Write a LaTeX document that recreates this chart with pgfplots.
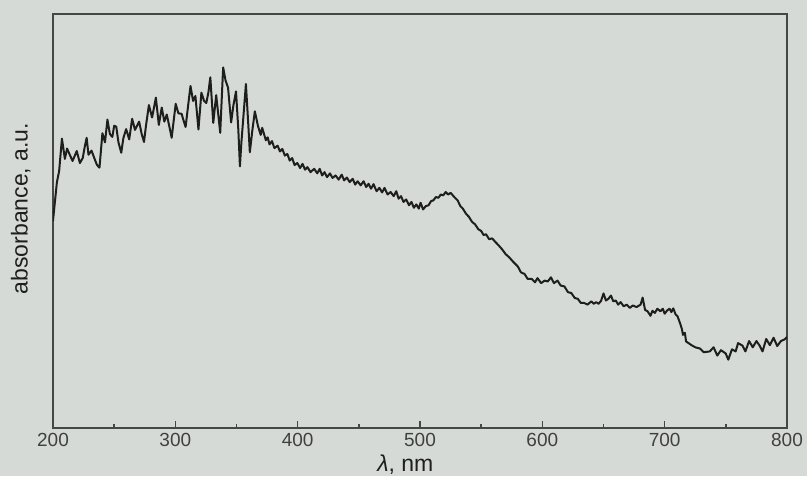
\documentclass[border=0pt]{standalone}
\usepackage{pgfplots}
\pgfplotsset{compat=1.18}
\usepackage{fontspec}
\setmainfont{Liberation Sans}
\definecolor{paper}{RGB}{214,218,214}
\definecolor{ink}{RGB}{30,30,30}
\definecolor{frame}{RGB}{70,70,70}

\pgfplotstableread{
x y
200 50
201 53
203.2 59.4
205 62
207.3 69.9
209.7 65.0
211.5 67.5
213.7 66.0
216 64.5
219.4 66.9
222 64
224.3 65.2
226 68
227.5 70.1
229 66
231.5 67.0
234 65
236 63.5
238 62.9
240.4 71.2
242.5 69
244.5 74.5
246.5 71
248.5 70.3
250 73
251.7 72.8
253.5 69
255.8 66.5
257.5 70
259.8 72.2
262.3 69.7
264.7 74.7
267 72
270.4 74.0
272.5 71
274.4 69.1
276 73
278.4 78.0
281 75
284.1 79.8
286.5 73.2
288.9 77.4
291 74
293 75.7
295 73
297 70.1
300.3 78.3
302.5 76
305.1 75.9
307 74
308.4 72.7
310.5 78
312.4 82.6
314.5 79
316.4 80.2
318.9 72.1
321.3 81.0
323.5 79
325.3 78.5
327 81
328.6 84.7
331 73.7
333.4 80.4
335 76
336.7 71.3
338 80
339.1 87.1
341 84
343.1 82.2
345.6 73.8
347.5 78
349.6 81.3
351.5 72
352.8 63.2
354 69
355.3 73.9
357.7 83.1
359.5 74
360.9 66.6
363 72
365 76.5
367.5 73
369.8 70.8
371 72.5
372.5 71
374 69.5
375.5 70.2
377 68.5
379 69.3
381 67.6
383.6 68.2
385.5 66.8
387.5 67.4
389.5 65.8
391.6 66.2
393.5 64.6
395.5 65.2
397.5 63.5
399.7 64.0
402 62.8
404 63.8
406 62.4
408 63.0
410.5 61.8
413.5 62.6
416 61.5
418 62.6
420 61.0
422 61.8
424 60.6
426.4 61.5
428.5 60.4
431 61.0
433.5 60.0
436 61.2
438 59.8
440.2 60.5
442.5 59.4
445 60.2
447 58.8
449 59.6
451.5 58.6
453.9 59.6
456 58.2
458 59.0
460 57.8
462 58.9
464.5 57.2
466.8 58.0
469 56.9
471 58.0
473.5 56.4
476 57.0
478.5 56.0
480.6 57.2
482.5 55.4
484.5 56.0
486.5 54.6
488.7 55.2
491 53.8
493 54.6
495 53.2
497 54.0
499 53.0
500.5 54.4
502.5 52.8
504.8 53.6
507 53.8
509 54.8
511 55.0
513 55.8
515 55.6
517 56.4
519 56.2
521 57.0
523 56.4
525 56.8
528 55.8
530.7 55.0
533 53.6
535 53.0
537.5 51.8
540 51.0
542.5 49.8
545 49.2
547.7 48.0
550 47.6
552 46.6
554 46.8
556.5 45.6
559 45.8
561.4 45.0
564 44.2
567 43.2
570 42.0
573 41.2
576 40.2
578 39.6
580 39.0
582.5 37.6
585.5 37.2
588 36.0
591.4 36.0
594 35.2
596 36.2
599 35.0
601.9 35.6
604.5 35.4
607 36.4
609.5 35.0
612.4 35.6
615 34.4
618 34.2
621 32.8
623.7 32.6
626.5 31.4
629 31.2
631.5 30.2
634.2 30.2
637 29.8
640 30.6
642 30.0
644 30.4
646 30.0
648 30.7
650 32.5
652 30.8
654 31.2
656.1 32.0
658 30.6
660 30.8
662 29.8
664 30.4
666.5 29.4
669 29.8
671.5 29.0
674 29.6
677 29.2
680.3 29.8
682 31.5
684 28.5
686 28.2
688.4 27.1
690 28.3
692 27.8
694 28.8
696.5 28.2
698.5 28.8
700 27.6
702 28.4
704 28.8
705.5 28.0
707 28.9
709 27.4
710.5 27.0
712.7 25.2
714 24.0
715 22.5
716.5 23.0
717.5 20.9
720 20.4
722 20
725 19.5
728.8 19.2
732 18.3
736.9 18.5
740 19.5
743 17.5
746 18.8
749.9 18.0
752 16.5
755 19
758 18.5
760 20.5
763.6 19.9
766 18.5
769 21
772 19.5
775 21
777.4 20.0
780 18.5
783 21.5
786 20
789 21.8
792 19.8
795 21
798 21.4
800 22
}\spectrum

\begin{document}
\begin{tikzpicture}
\useasboundingbox (-26.5pt,-24pt) rectangle (377pt,214pt);
\fill[paper] (-26.5pt,-24pt) rectangle (377pt,214pt);
\begin{axis}[
  scale only axis,
  width=367pt, height=207pt,
  at={(0,0)}, anchor=south west,
  xmin=200, xmax=800, ymin=0, ymax=100,
  xtick={200,300,...,800},
  minor x tick num=1,
  ytick=\empty,
  xtick pos=bottom,
  tick align=inside,
  major tick length=3.5pt,
  minor tick length=2pt,
  axis line style={frame, line width=0.7pt},
  every tick/.style={frame, line width=0.7pt},
  /pgf/number format/assume math mode=true,
  /pgf/number format/1000 sep={},
  xticklabel style={font=\fontsize{9.5}{11}\selectfont, text=ink!85, yshift=1pt},
  xlabel={\textit{λ}, nm},
  ylabel={absorbance, a.u.},
  xlabel style={at={(axis description cs:0.48,0)}, anchor=center, yshift=-18.5pt,
    font=\fontsize{11.5}{13}\selectfont, text=ink},
  ylabel style={at={(axis description cs:-0.044,0.53)}, anchor=center, rotate=0,
    font=\fontsize{11.5}{13}\selectfont, text=ink},
]
\addplot[ink, line width=1pt, line join=round] table[x=x, y=y] {\spectrum};
\end{axis}
\end{tikzpicture}
\end{document}
